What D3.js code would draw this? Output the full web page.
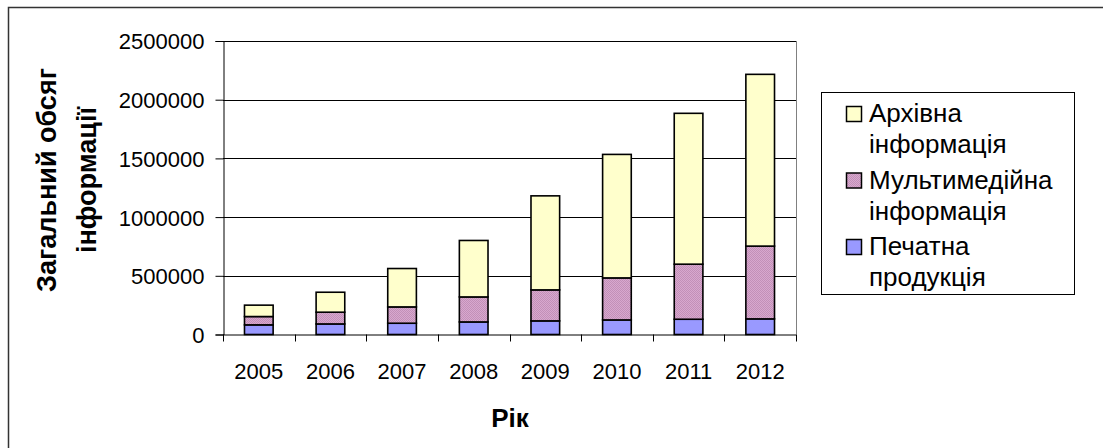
<!DOCTYPE html>
<html>
<head>
<meta charset="utf-8">
<script src="https://cdn.jsdelivr.net/npm/d3@7/dist/d3.min.js"></script>
<style>
  html, body { margin: 0; padding: 0; background: #fff; }
  svg { display: block; }
  text { font-family: "Liberation Sans", Arial, sans-serif; fill: #000; }
</style>
</head>
<body>
<svg id="chart" width="1103" height="448"></svg>
<script>
// Years on the category axis
const years = ["2005", "2006", "2007", "2008", "2009", "2010", "2011", "2012"];
// Series values (stacked bottom to top)
const printed    = [82000, 90000, 96000, 107000, 116000, 124000, 130000, 133000];
const multimedia = [71000, 100000, 139000, 213000, 264000, 358000, 469000, 620000];
const archive    = [97000, 170000, 327000, 481000, 801000, 1052000, 1285000, 1463000];
// Series names, bottom to top
const seriesNames = ["Печатна продукція", "Мультимедійна інформація", "Архівна інформація"];
const yTicks = [0, 500000, 1000000, 1500000, 2000000, 2500000];
const yTitle = ["Загальний обсяг", "інформації"];
const xTitle = "Рік";

const svg = d3.select("#chart");

// fine dither used by the multimedia series
const defs = svg.append("defs");
const pat = defs.append("pattern")
  .attr("id", "dither").attr("width", 2).attr("height", 2)
  .attr("patternUnits", "userSpaceOnUse");
pat.append("rect").attr("width", 2).attr("height", 2).attr("fill", "#d8a8ce");
pat.append("rect").attr("width", 1).attr("height", 1).attr("fill", "#c290b8");
pat.append("rect").attr("x", 1).attr("y", 1).attr("width", 1).attr("height", 1).attr("fill", "#c290b8");

const fills = ["#9999ff", "url(#dither)", "#ffffcc"];

// outer chart frame (runs off the right and bottom edges)
svg.append("rect")
  .attr("x", 8.5).attr("y", 7.5).attr("width", 1200).attr("height", 600)
  .attr("fill", "none").attr("stroke", "#333").attr("stroke-width", 1.5);

const plot = { left: 223, right: 796, top: 41, bottom: 334.5 };

const x = d3.scaleBand().domain(years).range([plot.left, plot.right])
  .paddingInner(0.6).paddingOuter(0.3);
const xEdges = d3.scaleBand().domain(years).range([plot.left, plot.right]).padding(0);
const y = d3.scaleLinear().domain([0, 2500000]).range([plot.bottom, plot.top]);

// gridlines
svg.append("g").selectAll("line").data(yTicks.slice(1)).join("line")
  .attr("x1", plot.left).attr("x2", plot.right)
  .attr("y1", d => Math.round(y(d)) + 0.5).attr("y2", d => Math.round(y(d)) + 0.5)
  .attr("stroke", "#000").attr("stroke-width", 1);
// right edge of plot area
svg.append("line")
  .attr("x1", plot.right + 0.5).attr("x2", plot.right + 0.5)
  .attr("y1", y(2500000)).attr("y2", plot.bottom)
  .attr("stroke", "#808080").attr("stroke-width", 1);

// y axis
const yAxis = d3.axisLeft(y).tickValues(yTicks).tickSize(8).tickPadding(11)
  .tickFormat(d3.format("d"));
const gy = svg.append("g").attr("transform", `translate(${plot.left + 0.5},0)`).call(yAxis);
gy.select(".domain").attr("stroke", "#000");
gy.selectAll(".tick line").attr("stroke", "#000");
gy.selectAll("text").style("font-size", "22px").attr("fill", "#000").attr("dy", "0.36em");

// x axis
const xAxis = d3.axisBottom(x).tickSize(0).tickPadding(0);
const gx = svg.append("g").attr("transform", `translate(0,${plot.bottom})`).call(xAxis);
gx.select(".domain").remove();
gx.selectAll("text").style("font-size", "22px").attr("fill", "#000")
  .attr("y", 0).attr("dy", 0).attr("transform", "translate(0,44)");
svg.append("line")
  .attr("x1", plot.left).attr("x2", plot.right)
  .attr("y1", plot.bottom + 0.5).attr("y2", plot.bottom + 0.5)
  .attr("stroke", "#000");
// category separators
svg.append("g").selectAll("line").data(years.concat(["end"])).join("line")
  .attr("x1", (d, i) => Math.round(i < years.length ? xEdges(d) : plot.right) + 0.5)
  .attr("x2", (d, i) => Math.round(i < years.length ? xEdges(d) : plot.right) + 0.5)
  .attr("y1", plot.bottom).attr("y2", plot.bottom + 7)
  .attr("stroke", "#000");

// stacked bars
const table = years.map((yr, i) => ({ year: yr, p: printed[i], m: multimedia[i], a: archive[i] }));
const stack = d3.stack().keys(["p", "m", "a"])(table);
svg.append("g").selectAll("g").data(stack).join("g")
  .attr("fill", (d, i) => fills[i])
  .selectAll("rect").data(d => d).join("rect")
  .attr("x", d => x(d.data.year))
  .attr("width", x.bandwidth())
  .attr("y", d => y(d[1]))
  .attr("height", d => y(d[0]) - y(d[1]))
  .attr("stroke", "#000").attr("stroke-width", 1.6);

// axis titles
svg.append("text")
  .attr("transform", "translate(0,180) rotate(-90)")
  .attr("text-anchor", "middle")
  .style("font-size", "27px").style("font-weight", "bold")
  .selectAll("tspan").data(yTitle).join("tspan")
  .attr("x", 0).attr("y", (d, i) => i === 0 ? 56 : 96)
  .text(d => d);

svg.append("text")
  .attr("x", 510).attr("y", 427)
  .attr("text-anchor", "middle")
  .style("font-size", "26px").style("font-weight", "bold")
  .text(xTitle);

// legend
const lg = svg.append("g");
lg.append("rect")
  .attr("x", 821.5).attr("y", 92.5).attr("width", 253).attr("height", 202)
  .attr("fill", "#fff").attr("stroke", "#000").attr("stroke-width", 1);
const legendOrder = [2, 1, 0];
legendOrder.forEach((si, k) => {
  const base = 122 + k * 66.5;
  lg.append("rect")
    .attr("x", 846.5).attr("y", base - 15.5).attr("width", 15).attr("height", 15)
    .attr("fill", fills[si]).attr("stroke", "#000").attr("stroke-width", 1.5);
  const words = seriesNames[si].split(" ");
  lg.append("text")
    .style("font-size", "26px")
    .selectAll("tspan").data(words).join("tspan")
    .attr("x", 869).attr("y", (d, i) => base + i * 31)
    .text(d => d);
});
</script>
</body>
</html>
